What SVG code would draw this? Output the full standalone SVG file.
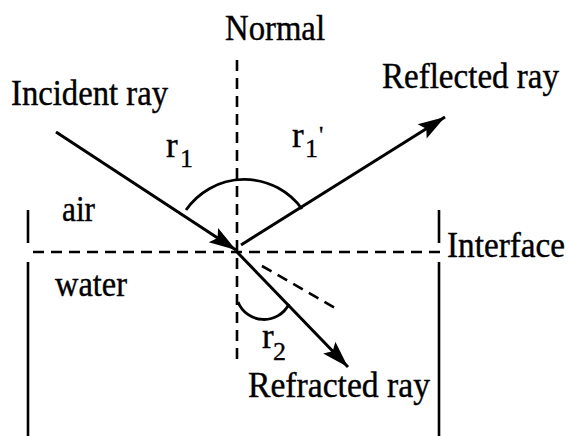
<svg xmlns="http://www.w3.org/2000/svg" width="570" height="436" viewBox="0 0 570 436">
<style>
.t{font-family:"Liberation Serif","Times New Roman",serif;font-size:35px;fill:#000;stroke:#000;stroke-width:0.4}
.s{font-family:"Liberation Serif","Times New Roman",serif;font-size:26px;fill:#000;stroke:#000;stroke-width:0.3}
.p{font-family:"Liberation Serif","Times New Roman",serif;font-size:24px;fill:#000;stroke:#000;stroke-width:0.3}
.ray{stroke:#000;stroke-width:3;fill:none;stroke-linecap:butt}
.dash{stroke:#000;stroke-width:2.6;fill:none;stroke-dasharray:11 7}
.wall{stroke:#000;stroke-width:2.6;fill:none}
.arc{stroke:#000;stroke-width:2.8;fill:none}
</style>
<defs>
<marker id="ah" markerUnits="userSpaceOnUse" markerWidth="32" markerHeight="20" viewBox="-28 -10 32 20" refX="0" refY="0" orient="auto">
<path d="M0,0 L-27,-8.5 L-22,0 L-27,8.5 Z" fill="#000"/>
</marker>
</defs>
<rect width="570" height="436" fill="#fff"/>
<g id="container">
<line class="wall" x1="28" y1="210" x2="28" y2="243"/>
<line class="wall" x1="28" y1="262" x2="28" y2="436"/>
<line class="wall" x1="439" y1="210" x2="439" y2="243"/>
<line class="wall" x1="439" y1="262" x2="439" y2="436"/>
</g>
<g id="normal">
<line class="dash" x1="237" y1="60" x2="237" y2="360"/>
<text class="t" x="225" y="40" textLength="100" lengthAdjust="spacingAndGlyphs">Normal</text>
</g>
<g id="interface">
<line class="dash" x1="33" y1="252" x2="440" y2="252"/>
<text class="t" x="447" y="257" textLength="118" lengthAdjust="spacingAndGlyphs">Interface</text>
</g>
<g id="media">
<text class="t" x="62" y="221" textLength="33" lengthAdjust="spacingAndGlyphs">air</text>
<text class="t" x="55" y="296" textLength="72" lengthAdjust="spacingAndGlyphs">water</text>
</g>
<g id="connectors">
<line class="ray" x1="56" y1="132" x2="236" y2="250" marker-end="url(#ah)"/>
<line class="ray" x1="241" y1="245" x2="445" y2="117" marker-end="url(#ah)"/>
<line class="ray" x1="237" y1="252" x2="348" y2="367" marker-end="url(#ah)"/>
<line class="dash" x1="262" y1="266" x2="337" y2="309"/>
<path class="arc" d="M186,210 A71,71 0 0 1 302,209"/>
<path class="arc" d="M238,302 A28,28 0 0 0 289,304"/>
</g>
<g id="incident">
<text class="t" x="11" y="105" textLength="157" lengthAdjust="spacingAndGlyphs">Incident ray</text>
</g>
<g id="reflected">
<text class="t" x="382" y="88" textLength="177" lengthAdjust="spacingAndGlyphs">Reflected ray</text>
</g>
<g id="refracted">
<text class="t" x="248" y="397" textLength="182" lengthAdjust="spacingAndGlyphs">Refracted ray</text>
</g>
<g id="angles">
<text class="t" x="166" y="157">r</text><text class="s" x="180" y="167">1</text>
<text class="t" x="292" y="147">r</text><text class="s" x="305" y="157">1</text><text class="p" x="319" y="142">'</text>
<text class="t" x="262" y="348">r</text><text class="s" x="273" y="360">2</text>
</g>
</svg>
